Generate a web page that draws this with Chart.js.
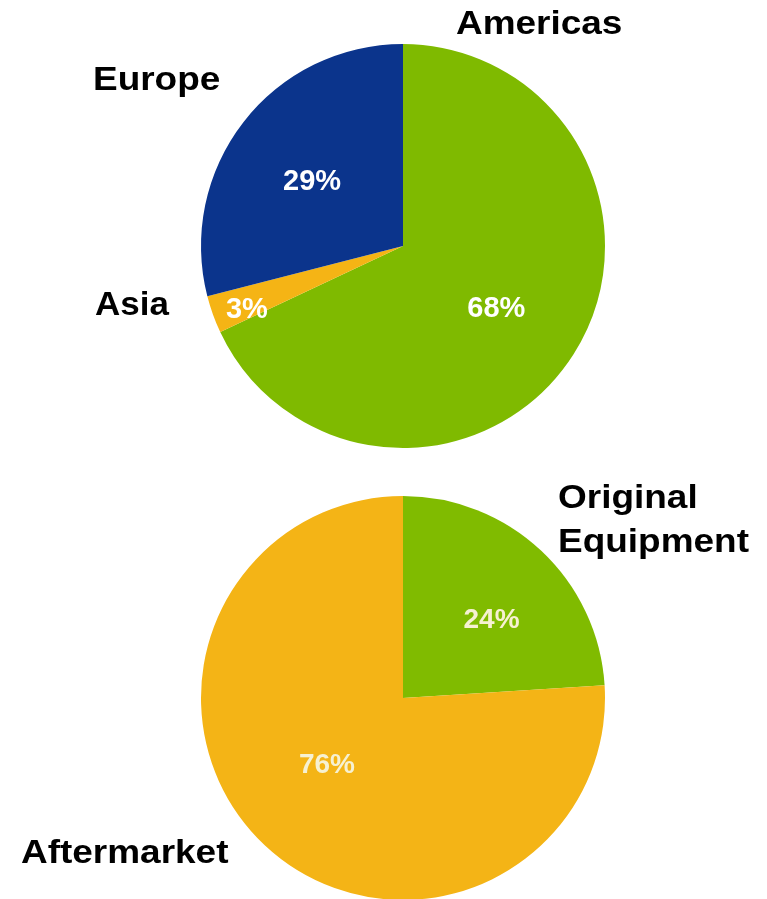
<!DOCTYPE html>
<html>
<head>
<meta charset="utf-8">
<script src="https://cdn.jsdelivr.net/npm/chart.js@4.4.0/dist/chart.umd.min.js"></script>
<style>
  html, body { margin: 0; padding: 0; background: #fff; overflow: hidden; }
  #wrap { position: relative; width: 767px; height: 899px; }
  .box { position: absolute; left: 0; width: 767px; }
</style>
</head>
<body>
<div id="wrap">
  <div class="box" style="top:0;height:470px"><canvas id="regions"></canvas></div>
  <div class="box" style="top:470px;height:430px"><canvas id="markets"></canvas></div>
</div>
<script>
// sales split by region
var regionLabels = ["Americas", "Asia", "Europe"];
var regionValues = [68, 3, 29];
var regionColors = ["#7fba00", "#f5b415", "#0b348c"];

// sales split by market
var marketLabels = [["Original", "Equipment"], "Aftermarket"];
var marketValues = [24, 76];
var marketColors = ["#80bb00", "#f4b416"];

var FONT = '"Liberation Sans", Arial, sans-serif';

// percentage text inside each slice, placed along the slice's mid angle
var pctLabels = {
    id: "pctLabels",
    afterDatasetsDraw: function (chart, args, opts) {
        var ctx = chart.ctx;
        var data = chart.data.datasets[0].data;
        var total = data.reduce(function (a, b) { return a + b; }, 0);
        ctx.save();
        ctx.font = "bold " + opts.size + "px " + FONT;
        ctx.fillStyle = opts.color;
        ctx.textAlign = "center";
        ctx.textBaseline = "alphabetic";
        chart.getDatasetMeta(0).data.forEach(function (arc, i) {
            var p = arc.getProps(["x", "y", "startAngle", "endAngle", "outerRadius"], true);
            var mid = (p.startAngle + p.endAngle) / 2 + opts.turn[i] * Math.PI / 180;
            var r = p.outerRadius * opts.radius[i];
            // baseline shifted so the digits are centred on the point
            ctx.fillText(Math.round(data[i] / total * 100) + "%",
                p.x + Math.cos(mid) * r,
                p.y + Math.sin(mid) * r + opts.size * 0.36);
        });
        ctx.restore();
    }
};

// category names written beside the pie
var catLabels = {
    id: "catLabels",
    afterDraw: function (chart, args, opts) {
        var ctx = chart.ctx;
        ctx.save();
        ctx.font = "bold 33px " + FONT;
        ctx.fillStyle = "#000";
        ctx.textAlign = "left";
        ctx.textBaseline = "alphabetic";
        chart.data.labels.forEach(function (label, i) {
            var lines = Array.isArray(label) ? label : [label];
            var at = opts.at[i];
            lines.forEach(function (line, j) {
                ctx.save();
                ctx.translate(at[0], at[1] + j * 44);
                ctx.scale(at[2] || opts.stretch, 1);
                ctx.fillText(line, 0, 0);
                ctx.restore();
            });
        });
        ctx.restore();
    }
};

function pie(id, labels, values, colors, padding, pct, cats) {
    new Chart(document.getElementById(id), {
        type: "pie",
        data: {
            labels: labels,
            datasets: [{
                data: values,
                backgroundColor: colors,
                borderWidth: 0,
                hoverOffset: 0
            }]
        },
        options: {
            responsive: true,
            maintainAspectRatio: false,
            animation: false,
            layout: { padding: padding },
            plugins: {
                legend: { display: false },
                tooltip: { enabled: false },
                pctLabels: pct,
                catLabels: cats
            }
        },
        plugins: [pctLabels, catLabels]
    });
}

pie("regions", regionLabels, regionValues, regionColors,
    { left: 201, right: 162, top: 44, bottom: 22 },
    { size: 29, color: "#ffffff", radius: [0.55, 0.83, 0.556], turn: [0.4, -1.6, -1.8] },
    { at: [[456, 34], [95, 315, 1.06], [93, 90]], stretch: 1.12 });

pie("markets", marketLabels, marketValues, marketColors,
    { left: 201, right: 162, top: 26, bottom: 0 },
    { size: 28, color: "#f6f1d2", radius: [0.59, 0.495], turn: [4.8, 6.3] },
    { at: [[558, 38], [21, 393]], stretch: 1.12 });
</script>
</body>
</html>
